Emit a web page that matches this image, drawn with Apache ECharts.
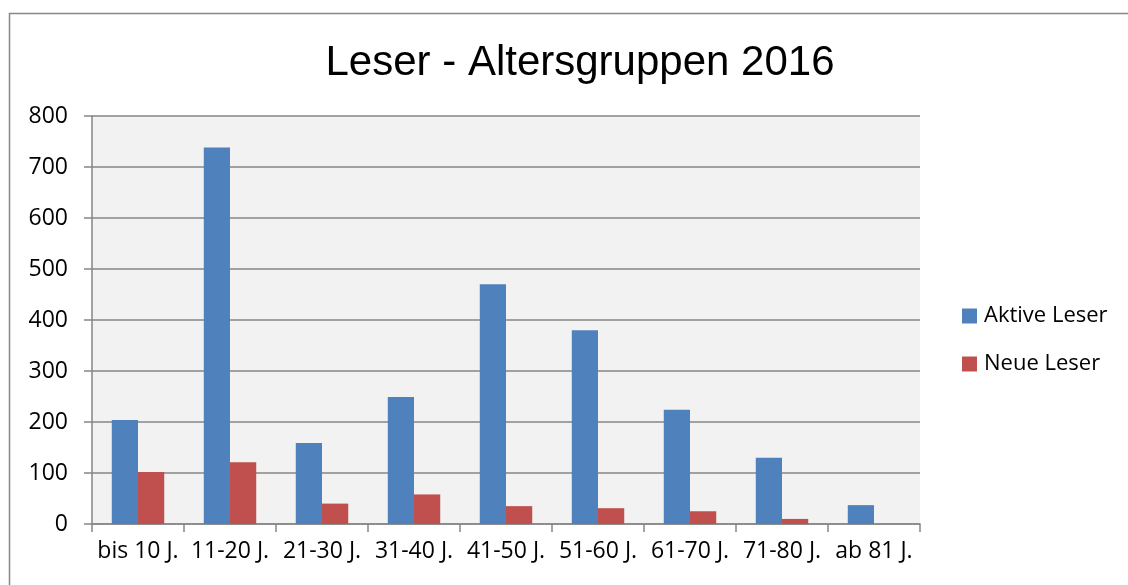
<!DOCTYPE html>
<html>
<head>
<meta charset="utf-8">
<script src="https://cdn.jsdelivr.net/npm/echarts@6/dist/echarts.min.js"></script>
<style>
  html, body { margin: 0; padding: 0; background: #fff; }
  #chart { width: 1128px; height: 585px; }
</style>
</head>
<body>
<div id="chart"></div>
<script>
var categories = ['bis 10 J.', '11-20 J.', '21-30 J.', '31-40 J.', '41-50 J.', '51-60 J.', '61-70 J.', '71-80 J.', 'ab 81 J.'];
var aktiveLeser = [204, 738, 159, 249, 470, 380, 224, 130, 37];
var neueLeser = [102, 121, 40, 58, 35, 31, 25, 10, 0];

var labelFont = '"Open Sans", sans-serif';
var myChart = echarts.init(document.getElementById('chart'));

var option = {
  animation: false,
  backgroundColor: '#fff',
  graphic: [{
    type: 'rect',
    shape: { x: 9.5, y: 13.5, width: 1130, height: 600 },
    style: { fill: 'none', stroke: '#878787', lineWidth: 1.5 },
    silent: true
  }],
  title: {
    text: 'Leser - Altersgruppen 2016',
    left: 575,
    top: 37,
    textAlign: 'center',
    textStyle: {
      fontFamily: '"Liberation Sans", Arial, sans-serif',
      fontWeight: 'normal',
      fontSize: 42,
      color: '#000'
    }
  },
  legend: {
    orient: 'vertical',
    left: 957,
    top: 299,
    itemWidth: 15,
    itemHeight: 15,
    itemGap: 24,
    icon: 'rect',
    textStyle: { fontFamily: labelFont, fontSize: 22, lineHeight: 24, color: '#000', padding: [0, 0, 0, 2] },
    data: ['Aktive Leser', 'Neue Leser']
  },
  grid: {
    left: 92,
    right: 208,
    top: 116,
    bottom: 61,
    show: true,
    backgroundColor: '#F2F2F2',
    borderWidth: 0
  },
  xAxis: {
    type: 'category',
    data: categories,
    axisLine: { lineStyle: { color: '#868686', width: 1.5 } },
    axisTick: { show: true, length: 8, interval: 0, lineStyle: { color: '#868686', width: 1.5 } },
    axisLabel: { interval: 0, margin: 16, fontFamily: labelFont, fontSize: 23, color: '#000' }
  },
  yAxis: {
    type: 'value',
    min: 0,
    max: 800,
    interval: 100,
    axisLine: { show: true, lineStyle: { color: '#868686', width: 1.5 } },
    axisTick: { show: true, length: 8, lineStyle: { color: '#868686', width: 1.5 } },
    splitLine: { lineStyle: { color: '#868686', width: 1.5 } },
    axisLabel: { margin: 24, fontFamily: labelFont, fontSize: 23, color: '#000' }
  },
  series: [{
    name: 'Aktive Leser',
    type: 'bar',
    data: aktiveLeser,
    barGap: '0%',
    barCategoryGap: '43%',
    itemStyle: { color: '#4F81BD' }
  }, {
    name: 'Neue Leser',
    type: 'bar',
    data: neueLeser,
    itemStyle: { color: '#C0504D' }
  }]
};

myChart.setOption(option);
</script>
</body>
</html>
